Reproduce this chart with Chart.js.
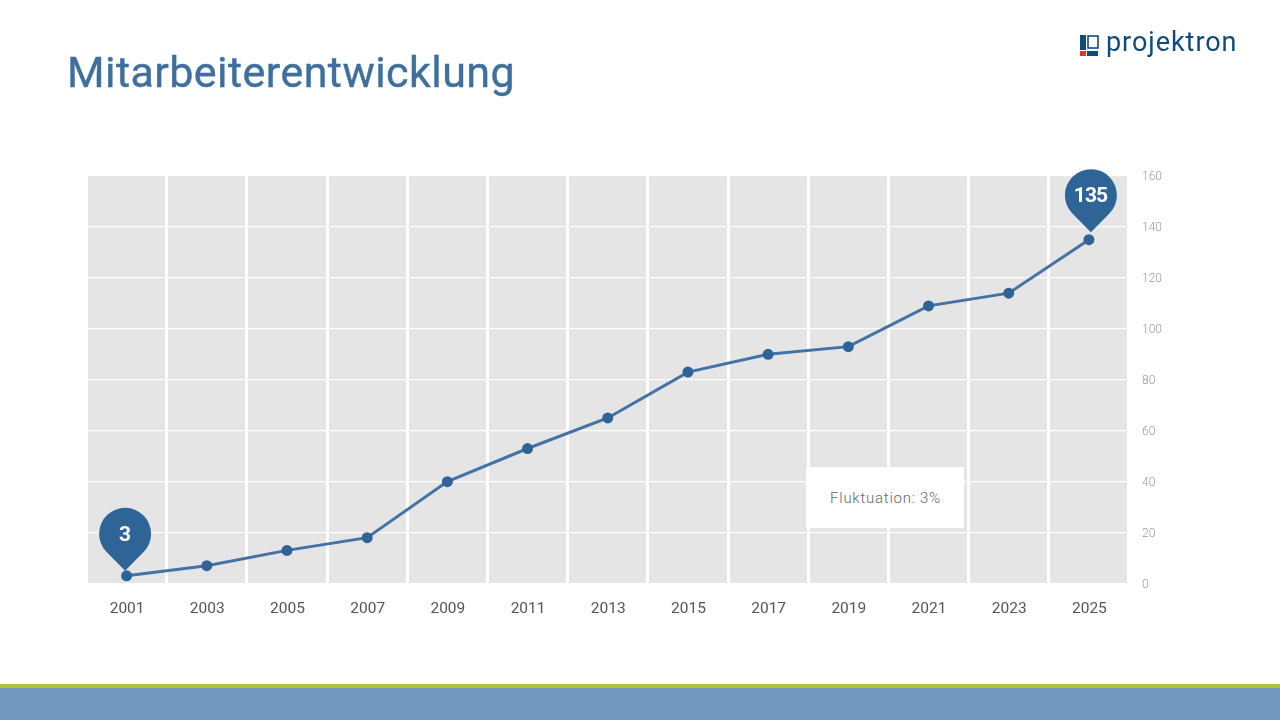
<!DOCTYPE html>
<html lang="de">
<head>
<meta charset="utf-8">
<title>Mitarbeiterentwicklung</title>
<script src="https://cdn.jsdelivr.net/npm/chart.js@4"></script>
<style>
    html, body { margin: 0; padding: 0; background: #fff; }
    body { width: 1280px; height: 720px; position: relative; overflow: hidden; font-family: Roboto, sans-serif; }
    canvas { position: absolute; left: 0; top: 0; }
    h1 { position: absolute; left: 67px; top: 46px; margin: 0; font-size: 43px; line-height: 52px; font-weight: 400; color: #3f6f9e; letter-spacing: 0.45px; -webkit-text-stroke: 0.4px #3f6f9e; }
    .logo { position: absolute; left: 1080px; top: 26px; width: 160px; height: 32px; }
    .logo span { position: absolute; left: 26px; top: 0; font-size: 27px; line-height: 32px; font-weight: 400; color: #0f4c7d; letter-spacing: 0.95px; }
    .logo svg { position: absolute; left: 0; top: 9px; }
    .box { position: absolute; left: 806px; top: 467px; width: 157px; padding-left: 1px; height: 61px; background: #fff; color: #666; font-size: 15px; font-weight: 300; line-height: 63px; text-align: center; letter-spacing: 0.75px; }
    .linea { position: absolute; left: 0; top: 684px; width: 1280px; height: 4px; background: #b1c534; }
    .banda { position: absolute; left: 0; top: 688px; width: 1280px; height: 32px; background: #7398bf; }
</style>
</head>
<body>
<canvas id="grafico" width="1280" height="720"></canvas>
<h1>Mitarbeiterentwicklung</h1>
<div class="logo">
    <svg width="20" height="22" viewBox="0 0 20 22">
        <rect x="0" y="0" width="6" height="15" fill="#0f4c7d"/>
        <rect x="0" y="16" width="6" height="5" fill="#e5352b"/>
        <rect x="8" y="1" width="10" height="12" fill="none" stroke="#0f4c7d" stroke-width="1.6"/>
        <rect x="7" y="16" width="11" height="5" fill="#0f4c7d"/>
    </svg>
    <span>projektron</span>
</div>
<div class="box">Fluktuation: 3%</div>
<div class="linea"></div>
<div class="banda"></div>
<script>
// Datos del gráfico
const anios = ['2001', '2003', '2005', '2007', '2009', '2011', '2013', '2015', '2017', '2019', '2021', '2023', '2025'];
const mitarbeiter = [3, 7, 13, 18, 40, 53, 65, 83, 90, 93, 109, 114, 135];
const ticksY = [0, 20, 40, 60, 80, 100, 120, 140, 160];
const indicesPin = [0, 12];
const desplazamientoPin = [-1.5, 2];
const separacionPin = [5, 7.5];

// Fondo gris del área de trazado, algo más estrecho que las bandas de las categorías
const fondoPlugin = {
    id: 'fondo',
    beforeDraw(chart) {
        const { ctx, chartArea } = chart;
        ctx.save();
        ctx.fillStyle = '#e5e5e5';
        ctx.fillRect(88, chartArea.top, 1039, chartArea.bottom - chartArea.top);
        ctx.restore();
    }
};

// Marcadores con el valor del primer y del último punto
const pinPlugin = {
    id: 'pines',
    afterDatasetsDraw(chart) {
        const { ctx } = chart;
        const puntos = chart.getDatasetMeta(0).data;
        indicesPin.forEach((indice, i) => {
            const punto = puntos[indice];
            const x = punto.x + desplazamientoPin[i];
            const punta = punto.y - separacionPin[i];
            const cy = punta - 37;
            const r = 26;
            ctx.save();
            ctx.fillStyle = '#2f6496';
            ctx.beginPath();
            ctx.arc(x, cy, r, Math.PI * 0.75 + 0.02, Math.PI * 0.25 - 0.02);
            ctx.lineTo(x, punta);
            ctx.closePath();
            ctx.fill();
            ctx.fillStyle = '#fff';
            ctx.font = '700 21px Roboto';
            ctx.letterSpacing = '-1px';
            ctx.textAlign = 'center';
            ctx.textBaseline = 'middle';
            ctx.fillText(String(mitarbeiter[indice]), x - 0.5, cy + 2);
            ctx.restore();
        });
    }
};

new Chart(document.getElementById('grafico'), {
    type: 'line',
    data: {
        labels: anios,
        datasets: [{
            data: mitarbeiter,
            borderColor: '#4372a6',
            borderWidth: 3,
            tension: 0,
            clip: false,
            pointRadius: 5.5,
            pointBackgroundColor: '#2f6496',
            pointBorderWidth: 0
        }]
    },
    plugins: [fondoPlugin, pinPlugin],
    options: {
        responsive: false,
        animation: false,
        layout: { padding: { left: 86.5, top: 176, right: 0, bottom: 0 } },
        plugins: { legend: { display: false }, tooltip: { enabled: false } },
        scales: {
            x: {
                offset: true,
                afterFit(escala) { escala.height = 136.5; },
                border: { display: false },
                grid: { color: '#fff', lineWidth: 3, offset: true, drawTicks: false },
                ticks: {
                    color: '#555',
                    padding: 16,
                    labelOffset: 0.5,
                    autoSkip: false,
                    maxRotation: 0,
                    font: { family: 'Roboto', size: 15.5 }
                }
            },
            y: {
                position: 'right',
                min: 0,
                max: 160,
                afterFit(escala) { escala.width = 151; },
                afterBuildTicks(escala) { escala.ticks = ticksY.map(value => ({ value })); },
                border: { display: false },
                grid: { color: '#fff', lineWidth: 1.2, drawTicks: false },
                ticks: {
                    color: '#999',
                    padding: 13,
                    labelOffset: 1,
                    font: { family: 'Roboto', size: 12, weight: '300' }
                }
            }
        }
    }
});
</script>
</body>
</html>
